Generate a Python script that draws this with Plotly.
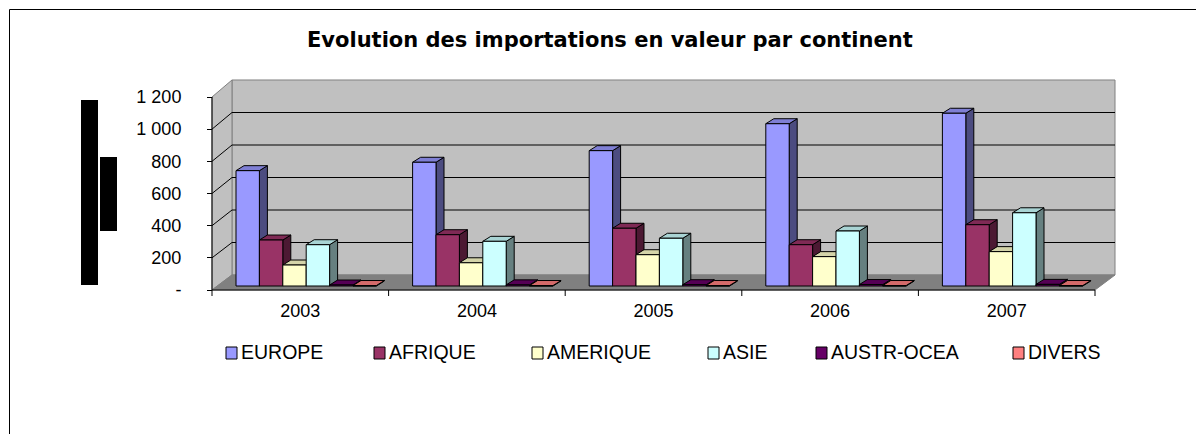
import plotly.graph_objects as go

# ---------------- data ----------------
years = ["2003", "2004", "2005", "2006", "2007"]
series_names = ["EUROPE", "AFRIQUE", "AMERIQUE", "ASIE", "AUSTR-OCEA", "DIVERS"]
europe = [715, 767, 839, 1006, 1071]
afrique = [285, 318, 358, 256, 380]
amerique = [130, 144, 194, 182, 213]
asie = [256, 277, 296, 341, 454]
austr_ocea = [6, 7, 8, 9, 10]
divers = [3, 3, 3, 3, 3]
y_tick_values = [0, 200, 400, 600, 800, 1000, 1200]
y_tick_labels = ["-", "200", "400", "600", "800", "1 000", "1 200"]
title_text = "Evolution des importations en valeur par continent"

series_values = [europe, afrique, amerique, asie, austr_ocea, divers]

# ---------------- style ----------------
front_colors = ["#9999FF", "#993366", "#FFFFCC", "#CCFFFF", "#660066", "#FF8080"]
top_colors = ["#7F7FD4", "#7F2A55", "#D4D4A9", "#A9D4D4", "#550055", "#D46A6A"]
side_colors = ["#4C4C80", "#4C1933", "#808066", "#668080", "#330033", "#804040"]

# The page body has an 8px margin: the figure starts at screen (8, 8).
OFF = 8
SW, SH = 1204, 434                  # screen size
W, H = SW - OFF, SH - OFF           # figure size
CAT_W, CAT0 = 176.6, 300.3          # px per category, screen px of first category centre
V0, VK = 286.0, 0.1613              # screen px of value 0 at bar front, px per unit
BAR_W = 23.4 / CAT_W
BAR_OFF0 = (236.0 - CAT0) / CAT_W
DX = 8.0 / CAT_W
DV = 5.0 / VK

# wall geometry (screen pixels)
FL, FR, BL, BR = 212, 1095, 232, 1115
FLOOR_F, FLOOR_B = 290, 275
KF, KB = 193 / 1200, 195 / 1200


def px(x):
    return (x - OFF) / W


def py(y):
    return 1 - (y - OFF) / H


def path(points):
    return "M " + " L ".join(f"{px(a):.5f},{py(b):.5f}" for a, b in points) + " Z"


fig = go.Figure()

# ---------------- 3D bars ----------------
for j, (name, vals) in enumerate(zip(series_names, series_values)):
    faces = {"side": ([], []), "top": ([], []), "front": ([], [])}
    for i, v in enumerate(vals):
        xl = i + BAR_OFF0 + j * BAR_W
        xr = xl + BAR_W
        polys = {
            "side": [(xr, 0), (xr, v), (xr + DX, v + DV), (xr + DX, DV)],
            "top": [(xl, v), (xr, v), (xr + DX, v + DV), (xl + DX, v + DV)],
            "front": [(xl, 0), (xr, 0), (xr, v), (xl, v)],
        }
        for k, pts in polys.items():
            xs, ys = faces[k]
            xs.extend([p[0] for p in pts] + [pts[0][0], None])
            ys.extend([p[1] for p in pts] + [pts[0][1], None])
    for k, color in (("side", side_colors[j]), ("top", top_colors[j]), ("front", front_colors[j])):
        xs, ys = faces[k]
        fig.add_trace(go.Scatter(
            x=xs, y=ys, mode="lines", fill="toself", fillcolor=color,
            line=dict(color="black", width=1), name=name,
            showlegend=False, hoverinfo="skip"))

# dummy trace for the front value axis
fig.add_trace(go.Scatter(x=[None], y=[None], yaxis="y2", showlegend=False, hoverinfo="skip"))

shapes = []
# walls and floor
shapes.append(dict(type="path", xref="paper", yref="paper", layer="below",
                   path=path([(BL, 80), (BR, 80), (BR, FLOOR_B), (BL, FLOOR_B)]),
                   fillcolor="#C0C0C0", line=dict(color="#808080", width=1)))
shapes.append(dict(type="path", xref="paper", yref="paper", layer="below",
                   path=path([(FL, FLOOR_F - 1200 * KF), (BL, 80), (BL, FLOOR_B), (FL, FLOOR_F)]),
                   fillcolor="#C0C0C0", line=dict(color="#808080", width=1)))
shapes.append(dict(type="path", xref="paper", yref="paper", layer="below",
                   path=path([(FL, FLOOR_F), (BL, FLOOR_B), (BR, FLOOR_B), (FR, FLOOR_F)]),
                   fillcolor="#808080", line=dict(color="#808080", width=1)))
# gridlines on back wall and left wall
for v in y_tick_values[1:-1]:
    yb = FLOOR_B - v * KB
    yf = FLOOR_F - v * KF
    shapes.append(dict(type="line", xref="paper", yref="paper", layer="below",
                       x0=px(BL), x1=px(BR), y0=py(yb), y1=py(yb),
                       line=dict(color="black", width=1)))
    shapes.append(dict(type="line", xref="paper", yref="paper", layer="below",
                       x0=px(FL), x1=px(BL), y0=py(yf), y1=py(yb),
                       line=dict(color="black", width=1)))
# front axis lines
shapes.append(dict(type="line", xref="paper", yref="paper", layer="below",
                   x0=px(FL), x1=px(FL), y0=py(FLOOR_F), y1=py(FLOOR_F - 1200 * KF),
                   line=dict(color="black", width=1)))
shapes.append(dict(type="line", xref="paper", yref="paper", layer="below",
                   x0=px(FL), x1=px(FR), y0=py(FLOOR_F), y1=py(FLOOR_F),
                   line=dict(color="black", width=1)))
# category boundary ticks
for i in range(len(years) + 1):
    shapes.append(dict(type="line", xref="x", yref="paper",
                       x0=i - 0.5, x1=i - 0.5, y0=py(FLOOR_F), y1=py(FLOOR_F + 6),
                       line=dict(color="black", width=1)))
# outer frame
shapes.append(dict(type="rect", xref="paper", yref="paper",
                   x0=px(9.5), y0=py(9.5), x1=1.02, y1=-0.05,
                   line=dict(color="black", width=1)))
# black blocks on the left (masked axis title)
shapes.append(dict(type="rect", xref="paper", yref="paper",
                   x0=px(81), x1=px(98), y0=py(100), y1=py(285),
                   fillcolor="black", line=dict(width=0)))
shapes.append(dict(type="rect", xref="paper", yref="paper",
                   x0=px(100), x1=px(117), y0=py(157), y1=py(231),
                   fillcolor="black", line=dict(width=0)))

# ---------------- legend (manual) ----------------
LEG_X = [226, 374, 532, 708, 816, 1013]
LEG_Y = 352
annotations = []
for name, color, lx in zip(series_names, front_colors, LEG_X):
    shapes.append(dict(type="rect", xref="paper", yref="paper",
                       x0=px(lx), x1=px(lx + 11), y0=py(LEG_Y - 5), y1=py(LEG_Y + 7),
                       fillcolor=color, line=dict(color="black", width=1)))
    annotations.append(dict(xref="paper", yref="paper", x=px(lx + 13), y=py(LEG_Y),
                            xanchor="left", yanchor="middle", showarrow=False, text=name,
                            font=dict(family="Liberation Sans, Arial", size=19.5, color="black")))

annotations.append(dict(xref="paper", yref="paper", x=px(610), y=py(40),
                        xanchor="center", yanchor="middle", showarrow=False,
                        text="<b>" + title_text + "</b>",
                        font=dict(family="DejaVu Sans", size=21, color="black")))

fig.update_layout(
    width=W, height=H,
    margin=dict(l=0, r=0, t=0, b=0),
    paper_bgcolor="white", plot_bgcolor="rgba(0,0,0,0)",
    showlegend=False,
    shapes=shapes,
    annotations=annotations,
    xaxis=dict(range=[(OFF - CAT0) / CAT_W, (SW - CAT0) / CAT_W], domain=[0, 1],
               tickmode="array", tickvals=list(range(len(years))), ticktext=years,
               ticks="", showgrid=False, zeroline=False, showline=False,
               anchor="free", position=py(FLOOR_F), ticklabelstandoff=8,
               tickfont=dict(family="Liberation Sans, Arial", size=18, color="black")),
    yaxis=dict(range=[(V0 - SH) / VK, (V0 - OFF) / VK], domain=[0, 1],
               showticklabels=False, showgrid=False, zeroline=False, showline=False, ticks=""),
    yaxis2=dict(range=[(FLOOR_F - SH) / KF, (FLOOR_F - OFF) / KF], overlaying="y",
                anchor="free", position=px(FL), side="left",
                tickmode="array", tickvals=y_tick_values, ticktext=y_tick_labels,
                ticks="outside", ticklen=5, tickcolor="black", tickwidth=1,
                showgrid=False, zeroline=False, showline=False, ticklabelstandoff=22,
                tickfont=dict(family="Liberation Sans, Arial", size=18, color="black")),
)

fig.write_html("out.html")
